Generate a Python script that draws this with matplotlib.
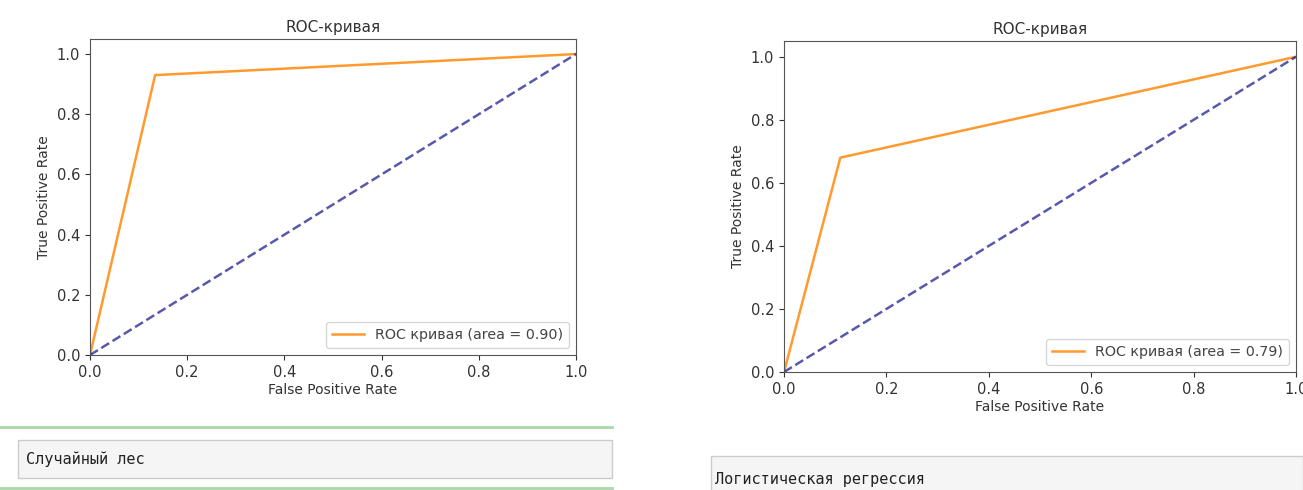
import matplotlib.pyplot as plt
from matplotlib.patches import Rectangle
from matplotlib.lines import Line2D

W, H = 1303, 490

# ROC points
rf_fpr = [0.0, 0.134, 1.0]
rf_tpr = [0.0, 0.93, 1.0]
rf_auc = 0.90

lr_fpr = [0.0, 0.11, 1.0]
lr_tpr = [0.0, 0.68, 1.0]
lr_auc = 0.79

captions = ['Случайный лес', 'Логистическая регрессия']
ticks = [0.0, 0.2, 0.4, 0.6, 0.8, 1.0]


def px_rect(x0, y0, x1, y1):
    # pixel box (top-down) -> figure fraction [l, b, w, h]
    return [x0 / W, 1 - y1 / H, (x1 - x0) / W, (y1 - y0) / H]


fig = plt.figure(figsize=(W / 100, H / 100), dpi=100)


def roc_axes(rect, fpr, tpr, auc):
    ax = fig.add_axes(rect)
    ax.plot(fpr, tpr, color='#ff9a2e', lw=1.8, label='ROC кривая (area = %0.2f)' % auc)
    ax.plot([0, 1], [0, 1], color='navy', lw=1.8, linestyle='--', alpha=0.65)
    ax.set_xlim(0.0, 1.0)
    ax.set_ylim(0.0, 1.05)
    ax.set_xticks(ticks)
    ax.set_yticks(ticks)
    ax.tick_params(labelsize=10.5, colors='#333333')
    for s in ax.spines.values():
        s.set_color('#555555')
    ax.set_xlabel('False Positive Rate', fontsize=10, color='#333333', labelpad=2)
    ax.set_ylabel('True Positive Rate', fontsize=10, color='#333333', labelpad=4)
    ax.set_title('ROC-кривая', fontsize=11, color='#333333', pad=5)
    leg = ax.legend(loc='lower right', fontsize=10.3, handlelength=2.2)
    for t in leg.get_texts():
        t.set_color('#444444')
    return ax


roc_axes(px_rect(90, 39, 576, 355), rf_fpr, rf_tpr, rf_auc)
roc_axes(px_rect(784, 41, 1296, 372), lr_fpr, lr_tpr, lr_auc)

# caption cells under the charts
fig.add_artist(Line2D([0, 612 / W], [1 - 427 / H] * 2, color='#a8d8a8', lw=2))
fig.add_artist(Line2D([0, 612 / W], [1 - 488 / H] * 2, color='#a8d8a8', lw=2))
fig.add_artist(Rectangle((18 / W, 1 - 478 / H), (612 - 18) / W, 38 / H,
                         facecolor='#f5f5f5', edgecolor='#cccccc', lw=1))
fig.add_artist(Rectangle((711 / W, 1 - 492 / H), (1303 - 711) / W, 36 / H,
                         facecolor='#f5f5f5', edgecolor='#cccccc', lw=1))
fig.text(26 / W, 1 - 459 / H, captions[0], family='DejaVu Sans Mono', fontsize=11,
         va='center', ha='left', color='#222222')
fig.text(715 / W, 1 - 479 / H, captions[1], family='DejaVu Sans Mono', fontsize=11,
         va='center', ha='left', color='#222222')

fig.savefig('out.png', dpi=100)
